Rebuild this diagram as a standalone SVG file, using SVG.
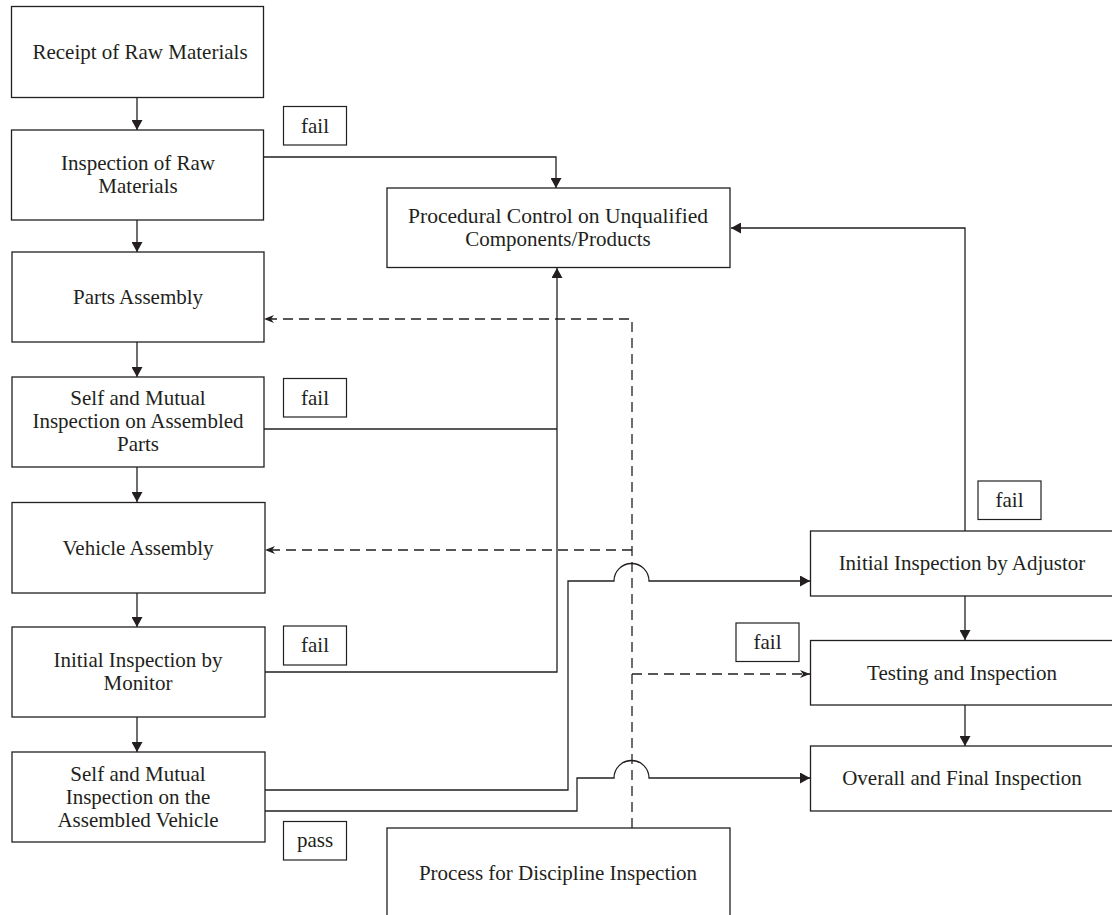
<svg xmlns="http://www.w3.org/2000/svg" width="1112" height="915" viewBox="0 0 1112 915">
<defs>
<style>
.box{fill:#fff;stroke:#231f20;stroke-width:1.3}
.lbl{fill:#fff;stroke:#231f20;stroke-width:1.2}
.t{font-family:"Liberation Serif","Times New Roman",serif;font-size:21px;fill:#231f20;text-anchor:middle}
.ln{fill:none;stroke:#231f20;stroke-width:1.3}
.dl{fill:none;stroke:#231f20;stroke-width:1.3;stroke-dasharray:10 6}
</style>
<marker id="ah" viewBox="0 0 10 11" refX="10" refY="5.5" markerWidth="10" markerHeight="11" markerUnits="userSpaceOnUse" orient="auto">
<path d="M0,0 L10,5.5 L0,11 z" fill="#231f20"/>
</marker>
<marker id="dh" viewBox="0 0 10 8" refX="10" refY="4" markerWidth="10" markerHeight="8" markerUnits="userSpaceOnUse" orient="auto">
<path d="M0,0 L10,4 L0,8 L3,4 z" fill="#231f20"/>
</marker>
</defs>
<rect width="1112" height="915" fill="#fff"/>

<g id="connectors">
<!-- left column downward arrows -->
<path class="ln" d="M137,97 V130" marker-end="url(#ah)"/>
<path class="ln" d="M137,220 V252" marker-end="url(#ah)"/>
<path class="ln" d="M137,342 V377" marker-end="url(#ah)"/>
<path class="ln" d="M137,467 V502" marker-end="url(#ah)"/>
<path class="ln" d="M137,593 V627" marker-end="url(#ah)"/>
<path class="ln" d="M137,717 V752" marker-end="url(#ah)"/>
<!-- right column downward arrows -->
<path class="ln" d="M965,596 V640" marker-end="url(#ah)"/>
<path class="ln" d="M965,705 V746" marker-end="url(#ah)"/>
<!-- fail lines to procedural control -->
<path class="ln" d="M264,157 H556 V188" marker-end="url(#ah)"/>
<path class="ln" d="M264,429 H557"/>
<path class="ln" d="M265,672 H557 V268" marker-end="url(#ah)"/>
<path class="ln" d="M965,531 V228 H731" marker-end="url(#ah)"/>
<!-- pass lines -->
<path class="ln" d="M265,790 H568 V581 H614 A17.5,17.5 0 0 1 649,581 H810" marker-end="url(#ah)"/>
<path class="ln" d="M265,811 H577 V778 H614 A17.5,17.5 0 0 1 649,778 H810" marker-end="url(#ah)"/>
<!-- dashed discipline lines -->
<path class="dl" d="M632,828 V319 H264" marker-end="url(#dh)"/>
<path class="dl" d="M632,550 H265" marker-end="url(#dh)"/>
<path class="dl" d="M632,674 H810" marker-end="url(#dh)"/>
</g>

<g id="n-receipt">
<rect class="box" x="11.5" y="6.5" width="252" height="91"/>
<text class="t" x="140" y="59">Receipt of Raw Materials</text>
</g>
<g id="n-inspection-raw">
<rect class="box" x="11.5" y="130" width="252" height="90"/>
<text class="t" x="138" y="170">Inspection of Raw</text>
<text class="t" x="138" y="193">Materials</text>
</g>
<g id="n-parts-assembly">
<rect class="box" x="12" y="252" width="252" height="90"/>
<text class="t" x="138" y="304">Parts Assembly</text>
</g>
<g id="n-self-mutual-parts">
<rect class="box" x="12" y="377" width="252" height="90"/>
<text class="t" x="138" y="405">Self and Mutual</text>
<text class="t" x="138" y="428">Inspection on Assembled</text>
<text class="t" x="138" y="451">Parts</text>
</g>
<g id="n-vehicle-assembly">
<rect class="box" x="12" y="502.5" width="253" height="90.5"/>
<text class="t" x="138" y="555">Vehicle Assembly</text>
</g>
<g id="n-monitor">
<rect class="box" x="12" y="627" width="253" height="90"/>
<text class="t" x="138" y="667">Initial Inspection by</text>
<text class="t" x="138" y="690">Monitor</text>
</g>
<g id="n-self-mutual-vehicle">
<rect class="box" x="12" y="752" width="253" height="90"/>
<text class="t" x="138" y="781">Self and Mutual</text>
<text class="t" x="138" y="804">Inspection on the</text>
<text class="t" x="138" y="827">Assembled Vehicle</text>
</g>
<g id="n-procedural">
<rect class="box" x="387" y="188" width="343" height="79.5"/>
<text class="t" x="558" y="223" textLength="300" lengthAdjust="spacingAndGlyphs">Procedural Control on Unqualified</text>
<text class="t" x="558" y="246">Components/Products</text>
</g>
<g id="n-adjustor">
<rect class="box" x="810.5" y="531" width="310" height="65"/>
<text class="t" x="962" y="570">Initial Inspection by Adjustor</text>
</g>
<g id="n-testing">
<rect class="box" x="810.5" y="640.5" width="310" height="64.5"/>
<text class="t" x="962" y="680">Testing and Inspection</text>
</g>
<g id="n-overall">
<rect class="box" x="810.5" y="746" width="310" height="65"/>
<text class="t" x="962" y="785">Overall and Final Inspection</text>
</g>
<g id="n-discipline">
<rect class="box" x="387" y="828" width="343" height="100"/>
<text class="t" x="558" y="880">Process for Discipline Inspection</text>
</g>

<g id="labels">
<rect class="lbl" x="283.5" y="106.5" width="63" height="38.5"/>
<text class="t" x="315" y="133">fail</text>
<rect class="lbl" x="283.5" y="378.5" width="63" height="38.5"/>
<text class="t" x="315" y="405">fail</text>
<rect class="lbl" x="283.5" y="626" width="63" height="39"/>
<text class="t" x="315" y="652">fail</text>
<rect class="lbl" x="283.5" y="821.5" width="63" height="38.5"/>
<text class="t" x="315" y="847">pass</text>
<rect class="lbl" x="736" y="623" width="63" height="38.5"/>
<text class="t" x="767.5" y="649">fail</text>
<rect class="lbl" x="978" y="481" width="63" height="38.5"/>
<text class="t" x="1009.5" y="507">fail</text>
</g>
</svg>
